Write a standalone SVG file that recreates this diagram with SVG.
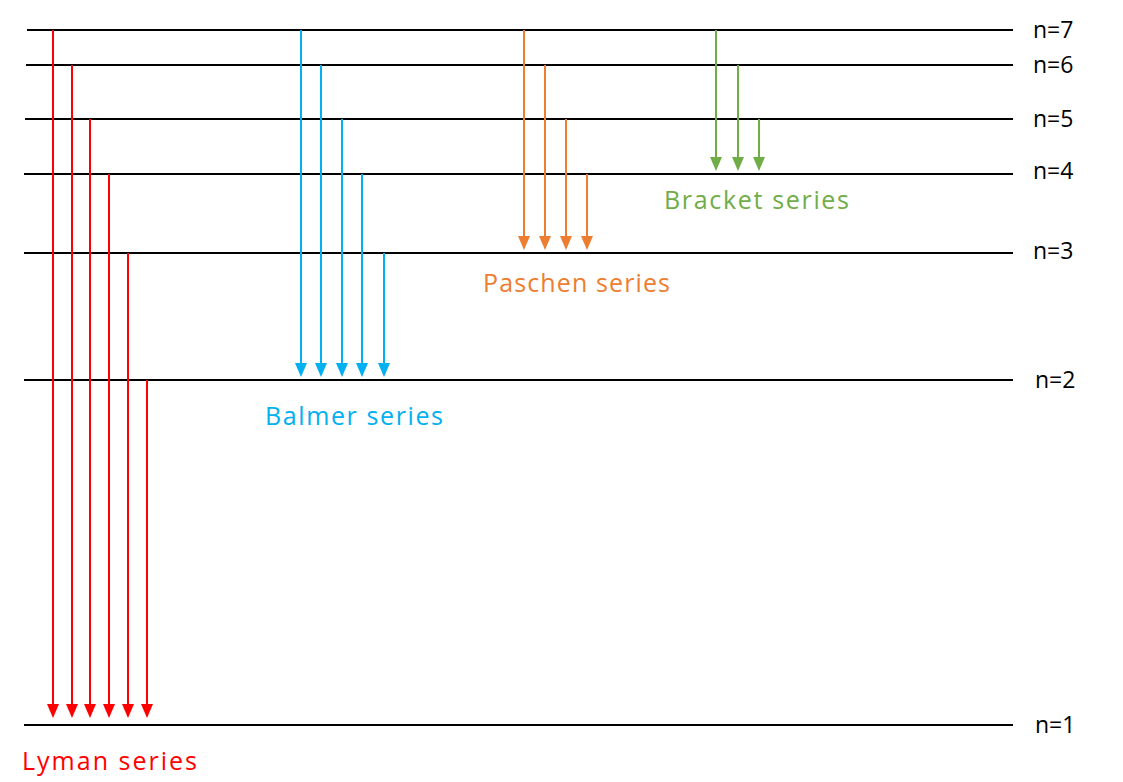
<svg xmlns="http://www.w3.org/2000/svg" width="1123" height="782" viewBox="0 0 1123 782">
<style>
.lv{stroke:#000;stroke-width:2}
.t{font-family:"Comic Sans MS","Open Sans",sans-serif;font-size:25px}
.lb{font-family:"Comic Sans MS","Open Sans",sans-serif;font-size:23px;fill:#000}
.r{stroke:#ff0000;stroke-width:2;marker-end:url(#mr)}
.b{stroke:#00b0f0;stroke-width:2;marker-end:url(#mb)}
.o{stroke:#ed7d31;stroke-width:2;marker-end:url(#mo)}
.g{stroke:#70ad47;stroke-width:2;marker-end:url(#mg)}
</style>
<defs>
<marker id="mr" markerWidth="7" markerHeight="6" refX="6" refY="3" orient="auto" markerUnits="strokeWidth"><path d="M0,0L7,3L0,6z" fill="#ff0000"/></marker>
<marker id="mb" markerWidth="7" markerHeight="6" refX="6" refY="3" orient="auto" markerUnits="strokeWidth"><path d="M0,0L7,3L0,6z" fill="#00b0f0"/></marker>
<marker id="mo" markerWidth="7" markerHeight="6" refX="6" refY="3" orient="auto" markerUnits="strokeWidth"><path d="M0,0L7,3L0,6z" fill="#ed7d31"/></marker>
<marker id="mg" markerWidth="7" markerHeight="6" refX="6" refY="3" orient="auto" markerUnits="strokeWidth"><path d="M0,0L7,3L0,6z" fill="#70ad47"/></marker>
</defs>
<rect width="1123" height="782" fill="#fff"/>
<g id="levels">
<line class="lv" x1="27" y1="30" x2="1013" y2="30"/>
<line class="lv" x1="26" y1="65" x2="1013" y2="65"/>
<line class="lv" x1="25" y1="119" x2="1013" y2="119"/>
<line class="lv" x1="24" y1="174" x2="1013" y2="174"/>
<line class="lv" x1="24" y1="253" x2="1013" y2="253"/>
<line class="lv" x1="24" y1="380" x2="1013" y2="380"/>
<line class="lv" x1="24" y1="725" x2="1013" y2="725"/>
<text class="lb" x="1033" y="38">n=7</text>
<text class="lb" x="1033" y="73">n=6</text>
<text class="lb" x="1033" y="127">n=5</text>
<text class="lb" x="1033" y="179">n=4</text>
<text class="lb" x="1033" y="259">n=3</text>
<text class="lb" x="1035" y="388">n=2</text>
<text class="lb" x="1035" y="733">n=1</text>
</g>
<g id="connectors">
<line class="r" x1="53" y1="30" x2="53" y2="716"/>
<line class="r" x1="72" y1="65" x2="72" y2="716"/>
<line class="r" x1="90" y1="119" x2="90" y2="716"/>
<line class="r" x1="109" y1="174" x2="109" y2="716"/>
<line class="r" x1="128" y1="253" x2="128" y2="716"/>
<line class="r" x1="147" y1="380" x2="147" y2="716"/>
<line class="b" x1="301" y1="30" x2="301" y2="375"/>
<line class="b" x1="321" y1="65" x2="321" y2="375"/>
<line class="b" x1="342" y1="119" x2="342" y2="375"/>
<line class="b" x1="362" y1="174" x2="362" y2="375"/>
<line class="b" x1="384" y1="253" x2="384" y2="375"/>
<line class="o" x1="524" y1="30" x2="524" y2="248"/>
<line class="o" x1="545" y1="65" x2="545" y2="248"/>
<line class="o" x1="566" y1="119" x2="566" y2="248"/>
<line class="o" x1="587" y1="174" x2="587" y2="248"/>
<line class="g" x1="716" y1="30" x2="716" y2="169"/>
<line class="g" x1="738" y1="65" x2="738" y2="169"/>
<line class="g" x1="759" y1="119" x2="759" y2="169"/>
</g>
<g id="labels">
<text class="t" x="22" y="770" fill="#ff0000" textLength="175">Lyman series</text>
<text class="t" x="265" y="425" fill="#00b0f0" textLength="178">Balmer series</text>
<text class="t" x="483" y="292" fill="#ed7d31" textLength="187">Paschen series</text>
<text class="t" x="664" y="209" fill="#70ad47" textLength="185">Bracket series</text>
</g>
</svg>
